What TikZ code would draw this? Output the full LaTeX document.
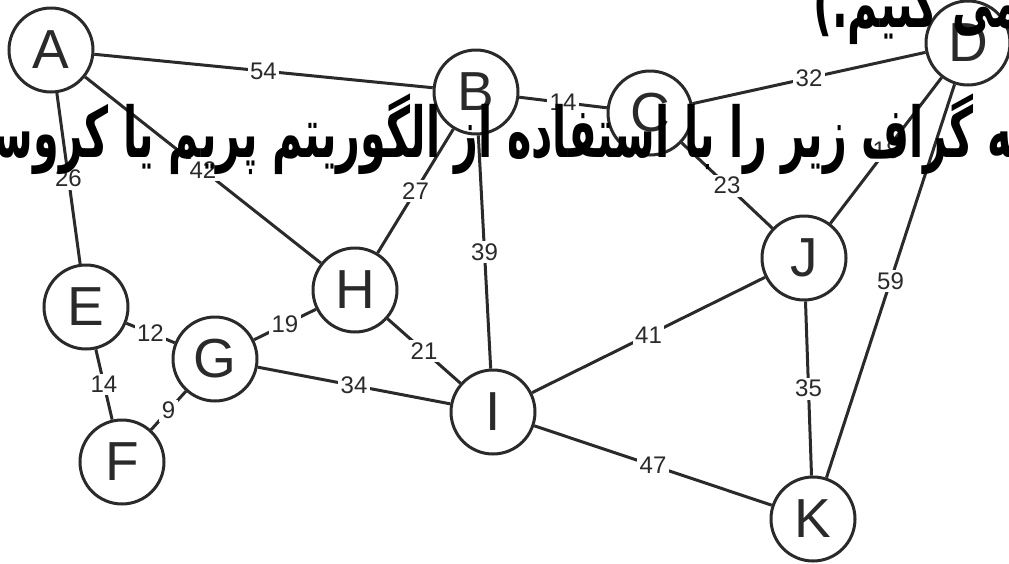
\documentclass[tikz,border=0pt]{standalone}
\usepackage{fontspec}
\setmainfont{Liberation Sans}
\newfontfamily\ptext[Script=Arabic]{DejaVu Sans}
\TeXXeTstate=1
\definecolor{gc}{RGB}{42,42,42}
\newsavebox\lineA
\newsavebox\lineB
\begin{document}
\sbox\lineB{\ptext\bfseries\fontsize{70}{76}\selectfont\beginR ^^^^200dه گراف زیر را با استفاده از الگوریتم پریم یا کروس^^^^200d\endR}%
\sbox\lineA{\ptext\bfseries\fontsize{70}{76}\selectfont\beginR می کنیم.)\endR}%
\begin{tikzpicture}[x=1pt,y=-1pt,
  vert/.style={circle, draw=gc, line width=3pt, minimum size=84pt, inner sep=0pt, text=gc, font=\fontsize{55}{55}\selectfont},
  edge/.style={draw=gc, line width=3pt},
  lab/.style={fill=white, inner sep=2.5pt, text=gc, font=\fontsize{24}{24}\selectfont}]
\useasboundingbox (0,0) rectangle (1009,563);
\clip (0,0) rectangle (1009,563);
\pgfmathsetmacro\sx{1020/\the\wd\lineB}
\node[vert] (A) at (51,50) {A};
\node[vert] (B) at (476,92) {B};
\node[vert] (C) at (650,113) {C};
\node[vert] (D) at (968,43) {D};
\node[vert] (E) at (86,307) {E};
\node[vert] (F) at (122,462) {F};
\node[vert] (G) at (215,359) {G};
\node[vert] (H) at (355,290) {H};
\node[vert] (I) at (493,412) {I};
\node[vert] (J) at (804,258) {J};
\node[vert] (K) at (813,519) {K};
\draw[edge] (A) -- node[lab]{54} (B);
\draw[edge] (B) -- node[lab]{14} (C);
\draw[edge] (C) -- node[lab]{32} (D);
\draw[edge] (A) -- node[lab]{26} (E);
\draw[edge] (A) -- node[lab]{42} (H);
\draw[edge] (B) -- node[lab]{27} (H);
\draw[edge] (B) -- node[lab]{39} (I);
\draw[edge] (C) -- node[lab]{23} (J);
\draw[edge] (D) -- node[lab]{18} (J);
\draw[edge] (D) -- node[lab]{59} (K);
\draw[edge] (E) -- node[lab]{12} (G);
\draw[edge] (E) -- node[lab]{14} (F);
\draw[edge] (F) -- node[lab]{9} (G);
\draw[edge] (G) -- node[lab]{19} (H);
\draw[edge] (H) -- node[lab]{21} (I);
\draw[edge] (G) -- node[lab]{34} (I);
\draw[edge] (I) -- node[lab]{41} (J);
\draw[edge] (I) -- node[lab]{47} (K);
\draw[edge] (J) -- node[lab]{35} (K);
\node[anchor=base east, inner sep=0pt] (t2) at (1013,157) {\scalebox{\sx}[1]{\usebox\lineB}};
\node[anchor=base west, inner sep=0pt] (t1) at (813,27) {\scalebox{\sx}[1]{\usebox\lineA}};
\end{tikzpicture}
\end{document}
